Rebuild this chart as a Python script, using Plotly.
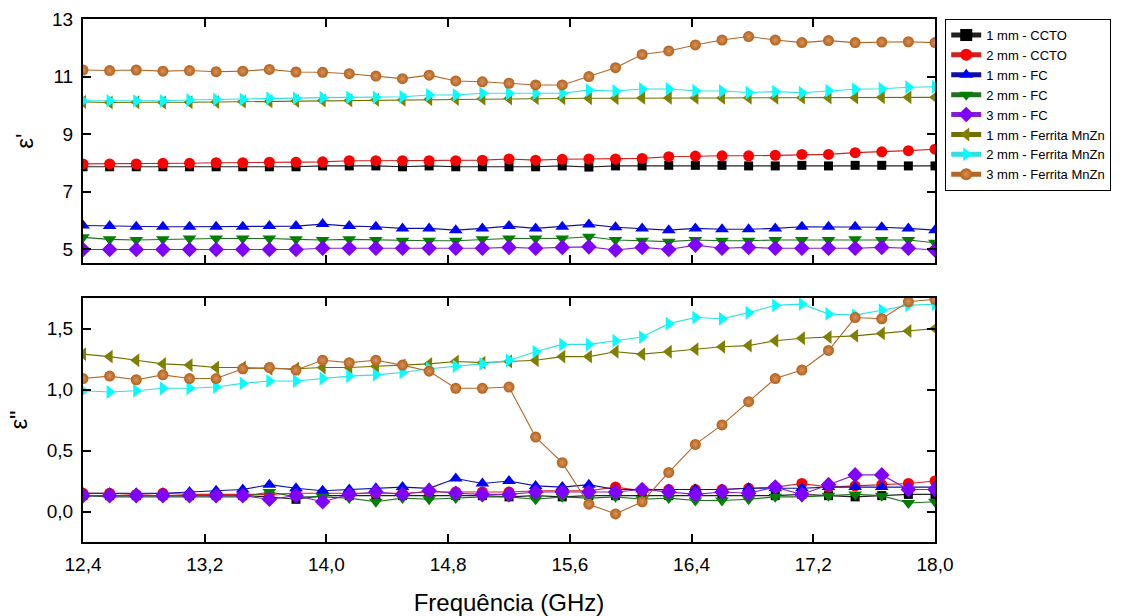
import plotly.graph_objects as go

# Frequency grid of the plotted markers (GHz)
FREQ = [12.4, 12.575, 12.75, 12.925, 13.1, 13.275, 13.45, 13.625, 13.8, 13.975,
        14.15, 14.325, 14.5, 14.675, 14.85, 15.025, 15.2, 15.375, 15.55, 15.725,
        15.9, 16.075, 16.25, 16.425, 16.6, 16.775, 16.95, 17.125, 17.3, 17.475,
        17.65, 17.825, 18.0]

NAMES = ["1 mm - CCTO", "2 mm - CCTO", "1 mm - FC", "2 mm - FC", "3 mm - FC",
         "1 mm - Ferrita MnZn", "2 mm - Ferrita MnZn", "3 mm - Ferrita MnZn"]

# epsilon' (real part)
EPS1_CCTO_1 = [7.87, 7.87, 7.87, 7.87, 7.87, 7.87, 7.87, 7.87, 7.87, 7.90, 7.90,
               7.90, 7.87, 7.90, 7.87, 7.87, 7.87, 7.87, 7.90, 7.86, 7.90, 7.90,
               7.92, 7.92, 7.92, 7.90, 7.90, 7.92, 7.90, 7.92, 7.92, 7.90, 7.90]
EPS1_CCTO_2 = [7.97, 7.97, 7.97, 7.99, 7.99, 8.01, 8.01, 8.03, 8.03, 8.04, 8.08,
               8.08, 8.08, 8.08, 8.08, 8.10, 8.14, 8.10, 8.13, 8.14, 8.14, 8.16,
               8.22, 8.24, 8.25, 8.25, 8.27, 8.30, 8.30, 8.36, 8.39, 8.43, 8.48]
EPS1_FC_1 = [5.83, 5.81, 5.79, 5.79, 5.79, 5.79, 5.79, 5.81, 5.81, 5.88, 5.81,
             5.79, 5.73, 5.73, 5.67, 5.73, 5.81, 5.73, 5.79, 5.87, 5.77, 5.73,
             5.67, 5.73, 5.70, 5.70, 5.73, 5.79, 5.79, 5.79, 5.77, 5.73, 5.67]
EPS1_FC_2 = [5.42, 5.35, 5.33, 5.35, 5.38, 5.38, 5.38, 5.38, 5.35, 5.33, 5.35,
             5.33, 5.30, 5.30, 5.30, 5.35, 5.38, 5.38, 5.38, 5.44, 5.33, 5.30,
             5.27, 5.33, 5.30, 5.30, 5.33, 5.33, 5.33, 5.35, 5.33, 5.33, 5.23]
EPS1_FC_3 = [5.00, 5.00, 5.00, 5.00, 5.00, 5.00, 5.00, 5.00, 5.00, 5.04, 5.04,
             5.04, 5.04, 5.04, 5.04, 5.04, 5.07, 5.04, 5.07, 5.09, 4.98, 5.07,
             5.00, 5.15, 5.04, 5.07, 5.04, 5.04, 5.04, 5.04, 5.07, 5.04, 4.98]
EPS1_FER_1 = [10.12, 10.10, 10.11, 10.10, 10.11, 10.12, 10.13, 10.14, 10.15, 10.17,
              10.17, 10.19, 10.19, 10.21, 10.22, 10.23, 10.24, 10.25, 10.25, 10.25,
              10.25, 10.26, 10.26, 10.26, 10.26, 10.26, 10.26, 10.27, 10.27, 10.27,
              10.28, 10.28, 10.28]
EPS1_FER_2 = [10.16, 10.16, 10.16, 10.16, 10.19, 10.21, 10.21, 10.25, 10.25, 10.27,
              10.28, 10.28, 10.30, 10.36, 10.36, 10.42, 10.42, 10.42, 10.42, 10.53,
              10.50, 10.57, 10.57, 10.51, 10.50, 10.45, 10.48, 10.44, 10.51, 10.56,
              10.58, 10.63, 10.65]
EPS1_FER_3 = [11.23, 11.21, 11.23, 11.19, 11.21, 11.17, 11.19, 11.25, 11.16, 11.15,
              11.10, 11.02, 10.93, 11.05, 10.85, 10.82, 10.77, 10.71, 10.71, 11.00,
              11.31, 11.77, 11.89, 12.10, 12.27, 12.39, 12.27, 12.18, 12.25, 12.18,
              12.20, 12.21, 12.18]

# epsilon'' (imaginary part)
EPS2_CCTO_1 = [0.13, 0.13, 0.13, 0.13, 0.13, 0.13, 0.13, 0.12, 0.10, 0.13, 0.13,
               0.13, 0.13, 0.13, 0.13, 0.13, 0.12, 0.13, 0.12, 0.13, 0.13, 0.13,
               0.13, 0.13, 0.13, 0.13, 0.13, 0.14, 0.13, 0.12, 0.13, 0.14, 0.14]
EPS2_CCTO_2 = [0.15, 0.15, 0.14, 0.15, 0.14, 0.14, 0.14, 0.14, 0.15, 0.15, 0.15,
               0.15, 0.15, 0.16, 0.16, 0.16, 0.16, 0.17, 0.17, 0.17, 0.20, 0.17,
               0.18, 0.18, 0.18, 0.19, 0.20, 0.23, 0.20, 0.21, 0.22, 0.23, 0.25]
EPS2_FC_1 = [0.15, 0.15, 0.15, 0.15, 0.16, 0.17, 0.18, 0.22, 0.19, 0.17, 0.18,
             0.19, 0.20, 0.19, 0.27, 0.23, 0.25, 0.21, 0.20, 0.22, 0.18, 0.18,
             0.18, 0.18, 0.18, 0.19, 0.19, 0.19, 0.20, 0.20, 0.20, 0.20, 0.20]
EPS2_FC_2 = [0.13, 0.12, 0.12, 0.12, 0.12, 0.12, 0.12, 0.16, 0.12, 0.12, 0.11,
             0.08, 0.11, 0.10, 0.11, 0.12, 0.12, 0.10, 0.12, 0.11, 0.12, 0.10,
             0.11, 0.09, 0.09, 0.10, 0.12, 0.12, 0.13, 0.14, 0.13, 0.07, 0.08]
EPS2_FC_3 = [0.13, 0.13, 0.13, 0.13, 0.13, 0.13, 0.13, 0.10, 0.13, 0.08, 0.14,
             0.16, 0.14, 0.17, 0.15, 0.14, 0.14, 0.16, 0.16, 0.16, 0.16, 0.18,
             0.16, 0.14, 0.16, 0.15, 0.20, 0.14, 0.22, 0.30, 0.30, 0.18, 0.18]
EPS2_FER_1 = [1.29, 1.27, 1.24, 1.21, 1.20, 1.18, 1.18, 1.17, 1.17, 1.18, 1.18,
              1.19, 1.20, 1.21, 1.23, 1.22, 1.23, 1.24, 1.27, 1.27, 1.31, 1.29,
              1.31, 1.33, 1.35, 1.36, 1.40, 1.42, 1.43, 1.44, 1.46, 1.48, 1.50]
EPS2_FER_2 = [0.99, 0.98, 0.99, 1.01, 1.01, 1.02, 1.05, 1.07, 1.07, 1.09, 1.11,
              1.12, 1.14, 1.17, 1.19, 1.21, 1.24, 1.31, 1.37, 1.37, 1.40, 1.43,
              1.54, 1.59, 1.58, 1.63, 1.69, 1.70, 1.62, 1.61, 1.65, 1.69, 1.70]
EPS2_FER_3 = [1.09, 1.11, 1.08, 1.12, 1.09, 1.09, 1.17, 1.18, 1.16, 1.24, 1.22,
              1.24, 1.20, 1.15, 1.01, 1.01, 1.02, 0.61, 0.40, 0.06, -0.02, 0.08,
              0.32, 0.55, 0.71, 0.90, 1.09, 1.16, 1.32, 1.59, 1.58, 1.72, 1.74]

EPS1 = [EPS1_CCTO_1, EPS1_CCTO_2, EPS1_FC_1, EPS1_FC_2, EPS1_FC_3,
        EPS1_FER_1, EPS1_FER_2, EPS1_FER_3]
EPS2 = [EPS2_CCTO_1, EPS2_CCTO_2, EPS2_FC_1, EPS2_FC_2, EPS2_FC_3,
        EPS2_FER_1, EPS2_FER_2, EPS2_FER_3]

COLORS = ["#000000", "#FF0000", "#0000FF", "#007F00", "#8000FF",
          "#808000", "#00FFFF", "#B5601A"]
LINE_COLORS = ["#202020", "#D02020", "#1010A0", "#207020", "#8020D0",
               "#707000", "#30E0E0", "#B06828"]
SYMBOLS = ["square", "circle", "triangle-up", "triangle-down", "diamond",
           "triangle-left", "triangle-right", "circle"]
SIZES = [9, 11, 12, 12, 12, 12, 12, 11]

FONT = "Arial, Liberation Sans, sans-serif"

fig = go.Figure()
for i, name in enumerate(NAMES):
    marker = dict(symbol=SYMBOLS[i], size=SIZES[i], color=COLORS[i],
                  line=dict(width=0))
    if i == 7:
        marker["gradient"] = dict(type="radial", color="#D8935A")
    for data, xa, ya, show in ((EPS1[i], "x", "y", True), (EPS2[i], "x2", "y2", False)):
        fig.add_trace(go.Scatter(
            x=FREQ, y=data, xaxis=xa, yaxis=ya, name=name, legendgroup=name,
            showlegend=show, mode="lines+markers",
            line=dict(color=LINE_COLORS[i], width=1.1),
            marker=marker, cliponaxis=True))

axis_common = dict(showline=True, linecolor="black", linewidth=2, mirror="ticks",
                   ticks="inside", ticklen=8, tickwidth=2, tickcolor="black",
                   showgrid=False, zeroline=False, automargin=False,
                   ticklabelstandoff=4,
                   tickfont=dict(family=FONT, size=19, color="black"))

fig.update_layout(
    width=1126, height=616,
    margin=dict(l=83, r=191, t=19, b=74),
    paper_bgcolor="white", plot_bgcolor="white",
    separators=",.",
    font=dict(family=FONT, color="black"),
    xaxis=dict(domain=[0, 1], range=[12.4, 18.0], tick0=12.4, dtick=0.8,
               showticklabels=False, anchor="y", **axis_common),
    yaxis=dict(domain=[0.5335, 1], range=[4.53, 13.0], tickvals=[5, 7, 9, 11, 13],
               title=dict(text="ε'", font=dict(family=FONT, size=24), standoff=12),
               anchor="x", **axis_common),
    xaxis2=dict(domain=[0, 1], range=[12.4, 18.0], tick0=12.4, dtick=0.8,
                tickformat=".1f", anchor="y2",
                title=dict(text="Frequência (GHz)", font=dict(family=FONT, size=24),
                           standoff=24),
                **axis_common),
    yaxis2=dict(domain=[0, 0.4665], range=[-0.25, 1.75], tick0=0, dtick=0.5,
                tickformat=".1f",
                title=dict(text='ε"', font=dict(family=FONT, size=24), standoff=12),
                anchor="x2", **axis_common),
    legend=dict(x=1.012, y=1.0, xanchor="left", yanchor="top",
                bordercolor="black", borderwidth=1, bgcolor="white",
                font=dict(family=FONT, size=13, color="black"),
                tracegroupgap=0, itemsizing="constant"),
    showlegend=True,
)

fig.write_html("out.html", config={"displayModeBar": False},
               post_script="document.body.style.margin='0';")
